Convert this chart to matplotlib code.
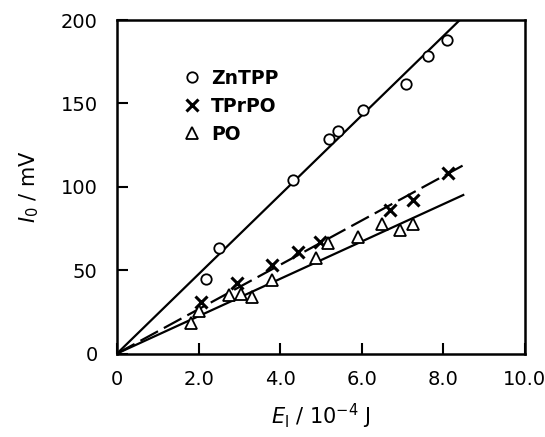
import numpy as np
import matplotlib
matplotlib.use("Agg")
import matplotlib.pyplot as plt

# ZnTPP (circles)
zn_x = [2.17, 2.51, 4.31, 5.20, 5.43, 6.04, 7.08, 7.63, 8.08]
zn_y = [44.6, 63.2, 104.2, 128.6, 133.6, 145.8, 161.9, 178.3, 188.3]

# TPrPO (crosses)
tp_x = [2.07, 2.93, 3.81, 4.44, 4.98, 6.69, 7.26, 8.12]
tp_y = [31.1, 42.2, 53.2, 60.8, 67.2, 86.2, 92.2, 108.2]

# PO (triangles)
po_x = [1.81, 2.02, 2.75, 3.03, 3.30, 3.81, 4.87, 5.18, 5.91, 6.49, 6.94, 7.26]
po_y = [18.1, 25.7, 35.1, 35.7, 34.1, 44.1, 57.2, 66.6, 69.8, 77.8, 74.2, 77.8]

# fitted lines through the origin: slope (mV per 10^-4 J) and end point
zn_slope, zn_end = 23.8, 8.41
tp_slope, tp_end = 13.3, 8.49
po_slope, po_end = 11.2, 8.49

xticks = [0, 2, 4, 6, 8, 10]
xtick_labels = ["0", "2.0", "4.0", "6.0", "8.0", "10.0"]
yticks = [0, 50, 100, 150, 200]

fig = plt.figure(figsize=(5.45, 4.37), dpi=100)
ax = fig.add_axes([0.2147, 0.191, 0.7483, 0.763])

ax.plot([0, zn_end], [0, zn_slope * zn_end], color="black", lw=1.6)
ax.plot([0, tp_end], [0, tp_slope * tp_end], color="black", lw=1.6,
        dashes=(9, 3))
ax.plot([0, po_end], [0, po_slope * po_end], color="black", lw=1.6)

ax.plot(zn_x, zn_y, "o", ms=7.5, mfc="white", mec="black", mew=1.3,
        ls="none", label="ZnTPP")
ax.plot(tp_x, tp_y, "x", ms=8, mec="black", mew=2.2, ls="none",
        label="TPrPO")
ax.plot(po_x, po_y, "^", ms=8, mfc="white", mec="black", mew=1.3,
        ls="none", label="PO")

ax.set_xlim(0, 10)
ax.set_ylim(0, 200)
ax.set_xticks(xticks)
ax.set_xticklabels(xtick_labels)
ax.set_yticks(yticks)
ax.tick_params(direction="in", length=8, width=1.5, labelsize=14,
               top=False, right=False)
ax.tick_params(axis="x", pad=12)
ax.tick_params(axis="y", pad=14)
for s in ax.spines.values():
    s.set_linewidth(1.8)

ax.set_xlabel(r"$E_{\rm l}$ / 10$^{-4}$ J", fontsize=15, labelpad=9)
ax.set_ylabel(r"$I_0$ / mV", fontsize=15, labelpad=14)

ax.legend(loc="upper left", bbox_to_anchor=(0.12, 0.905), frameon=False,
          handletextpad=0.5, labelspacing=0.48, handlelength=1.0,
          prop={"weight": "bold", "size": 13.5})

fig.savefig("out.png", dpi=100)
